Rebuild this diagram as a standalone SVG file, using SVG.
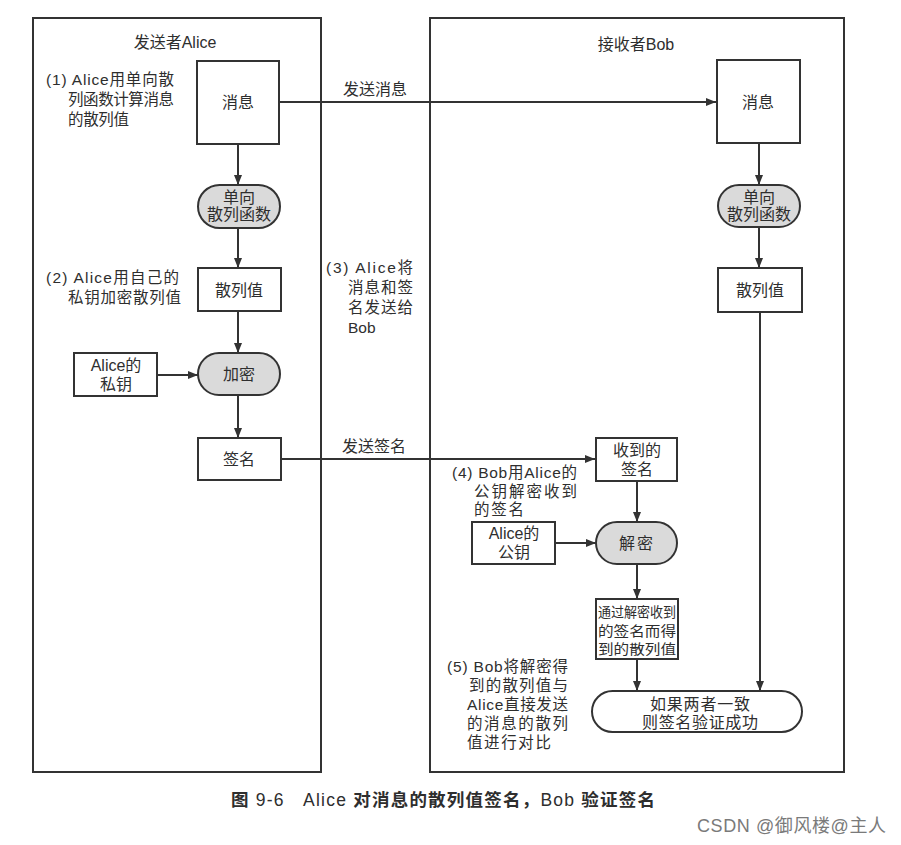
<svg xmlns="http://www.w3.org/2000/svg" width="901" height="845" viewBox="0 0 901 845">
  <style>
    text { font-family: "Liberation Sans", "Noto Sans CJK SC", sans-serif; fill: #2e2e2e; }
    .lane { fill: none; stroke: #333; stroke-width: 2; }
    .box { fill: #fff; stroke: #333; stroke-width: 2; }
    .pill { fill: #dadada; stroke: #333; stroke-width: 2; }
    .pill-w { fill: #fff; stroke: #333; stroke-width: 2; }
    .lbl { font-size: 16px; text-anchor: middle; dominant-baseline: central; }
    .sm { font-size: 13.5px; text-anchor: middle; dominant-baseline: central; }
    .note { font-size: 15.5px; dominant-baseline: central; }
    .edge { fill: none; stroke: #333; stroke-width: 2; }
  </style>
  <defs>
    <marker id="arrow" markerUnits="userSpaceOnUse" markerWidth="11" markerHeight="9" refX="10" refY="4" orient="auto">
      <path d="M0,0 L10,4 L0,8 z" fill="#333"/>
    </marker>
  </defs>
  <rect width="901" height="845" fill="#fff"/>

  <!-- swimlanes -->
  <g id="lane-alice">
    <rect class="lane" x="33" y="18" width="288" height="754"/>
    <text class="lbl" x="175" y="42">发送者Alice</text>
  </g>
  <g id="lane-bob">
    <rect class="lane" x="430" y="18" width="414" height="754"/>
    <text class="lbl" x="636" y="44">接收者Bob</text>
  </g>

  <!-- connectors -->
  <g id="connectors">
    <path class="edge" d="M279,102 H716" marker-end="url(#arrow)"/>
    <path class="edge" d="M238,144 V185" marker-end="url(#arrow)"/>
    <path class="edge" d="M238,228 V268" marker-end="url(#arrow)"/>
    <path class="edge" d="M238,311 V353" marker-end="url(#arrow)"/>
    <path class="edge" d="M157,375 H198" marker-end="url(#arrow)"/>
    <path class="edge" d="M238,395 V438" marker-end="url(#arrow)"/>
    <path class="edge" d="M281,459 H595" marker-end="url(#arrow)"/>
    <path class="edge" d="M759,143 V185" marker-end="url(#arrow)"/>
    <path class="edge" d="M759,227 V268" marker-end="url(#arrow)"/>
    <path class="edge" d="M760,312 V691" marker-end="url(#arrow)"/>
    <path class="edge" d="M637,481 V522" marker-end="url(#arrow)"/>
    <path class="edge" d="M555,543 H596" marker-end="url(#arrow)"/>
    <path class="edge" d="M637,564 V599" marker-end="url(#arrow)"/>
    <path class="edge" d="M637,659 V691" marker-end="url(#arrow)"/>
    <text class="lbl" x="375" y="89" font-size="16.5">发送消息</text>
    <text class="lbl" x="374" y="446" font-size="16.5">发送签名</text>
  </g>

  <!-- sender side -->
  <g id="a-msg">
    <rect class="box" x="197" y="61" width="82" height="83"/>
    <text class="lbl" x="238" y="102">消息</text>
  </g>
  <g id="a-hashfn">
    <rect class="pill" x="198" y="185" width="82" height="43" rx="21.5"/>
    <text class="lbl" x="239" y="197">单向</text>
    <text class="lbl" x="239" y="214">散列函数</text>
  </g>
  <g id="a-hash">
    <rect class="box" x="198" y="268" width="83" height="43"/>
    <text class="lbl" x="239" y="290">散列值</text>
  </g>
  <g id="a-privkey">
    <rect class="box" x="74" y="353" width="83" height="43"/>
    <text class="lbl" x="116" y="365">Alice的</text>
    <text class="lbl" x="116" y="384">私钥</text>
  </g>
  <g id="a-encrypt">
    <rect class="pill" x="198" y="353" width="82" height="42" rx="21"/>
    <text class="lbl" x="239" y="374">加密</text>
  </g>
  <g id="a-sig">
    <rect class="box" x="198" y="438" width="83" height="42"/>
    <text class="lbl" x="239" y="459">签名</text>
  </g>

  <!-- receiver side -->
  <g id="b-msg">
    <rect class="box" x="717" y="60" width="83" height="83"/>
    <text class="lbl" x="758" y="102">消息</text>
  </g>
  <g id="b-hashfn">
    <rect class="pill" x="718" y="185" width="82" height="42" rx="21"/>
    <text class="lbl" x="759" y="197">单向</text>
    <text class="lbl" x="759" y="214">散列函数</text>
  </g>
  <g id="b-hash">
    <rect class="box" x="718" y="268" width="84" height="44"/>
    <text class="lbl" x="760" y="290">散列值</text>
  </g>
  <g id="b-recvsig">
    <rect class="box" x="596" y="438" width="81" height="43"/>
    <text class="lbl" x="637" y="450">收到的</text>
    <text class="lbl" x="637" y="469">签名</text>
  </g>
  <g id="b-pubkey">
    <rect class="box" x="472" y="522" width="83" height="42"/>
    <text class="lbl" x="514" y="533">Alice的</text>
    <text class="lbl" x="514" y="552">公钥</text>
  </g>
  <g id="b-decrypt">
    <rect class="pill" x="596" y="522" width="81" height="42" rx="21"/>
    <text class="lbl" x="637" y="543" letter-spacing="2">解密</text>
  </g>
  <g id="b-dechash">
    <rect class="box" x="596" y="599" width="82" height="60"/>
    <text class="sm" x="637" y="612" textLength="78" lengthAdjust="spacingAndGlyphs">通过解密收到</text>
    <text class="sm" x="637" y="631" textLength="78" lengthAdjust="spacingAndGlyphs">的签名而得</text>
    <text class="sm" x="637" y="649" textLength="78" lengthAdjust="spacingAndGlyphs">到的散列值</text>
  </g>
  <g id="b-compare">
    <rect class="pill-w" x="592" y="691" width="210" height="41" rx="20.5"/>
    <text class="lbl" x="700" y="704" font-size="16.5" textLength="100" lengthAdjust="spacing">如果两者一致</text>
    <text class="lbl" x="700" y="722" font-size="16.5" textLength="116" lengthAdjust="spacing">则签名验证成功</text>
  </g>

  <!-- step notes -->
  <g id="notes">
    <text class="note" x="46" y="79" textLength="128" lengthAdjust="spacing">(1) Alice用单向散</text>
    <text class="note" x="68" y="99" textLength="106" lengthAdjust="spacing">列函数计算消息</text>
    <text class="note" x="68" y="119" textLength="61" lengthAdjust="spacing">的散列值</text>

    <text class="note" x="46" y="277" textLength="133" lengthAdjust="spacing">(2) Alice用自己的</text>
    <text class="note" x="68" y="297" textLength="113" lengthAdjust="spacing">私钥加密散列值</text>

    <text class="note" x="326" y="267" textLength="87" lengthAdjust="spacing">(3) Alice将</text>
    <text class="note" x="348" y="287" textLength="65" lengthAdjust="spacing">消息和签</text>
    <text class="note" x="348" y="307" textLength="65" lengthAdjust="spacing">名发送给</text>
    <text class="note" x="348" y="327">Bob</text>

    <text class="note" x="452" y="472" textLength="125" lengthAdjust="spacing">(4) Bob用Alice的</text>
    <text class="note" x="474" y="491" textLength="103" lengthAdjust="spacing">公钥解密收到</text>
    <text class="note" x="474" y="509" textLength="50" lengthAdjust="spacing">的签名</text>

    <text class="note" x="447" y="666" textLength="121" lengthAdjust="spacing">(5) Bob将解密得</text>
    <text class="note" x="469" y="685" textLength="99" lengthAdjust="spacing">到的散列值与</text>
    <text class="note" x="467" y="704" textLength="101" lengthAdjust="spacing">Alice直接发送</text>
    <text class="note" x="467" y="723" textLength="101" lengthAdjust="spacing">的消息的散列</text>
    <text class="note" x="467" y="742" textLength="84" lengthAdjust="spacing">值进行对比</text>
  </g>

  <!-- caption and credit -->
  <text x="231" y="800" font-size="17.5" font-weight="bold" dominant-baseline="central" fill="#333" xml:space="preserve" textLength="424" lengthAdjust="spacing">图 <tspan font-weight="normal">9-6   Alice </tspan>对消息的散列值签名，<tspan font-weight="normal">Bob </tspan>验证签名</text>
  <text x="697" y="826" font-size="18" dominant-baseline="central" style="fill:#7a7a7a" textLength="189" lengthAdjust="spacing">CSDN @御风楼@主人</text>
</svg>
